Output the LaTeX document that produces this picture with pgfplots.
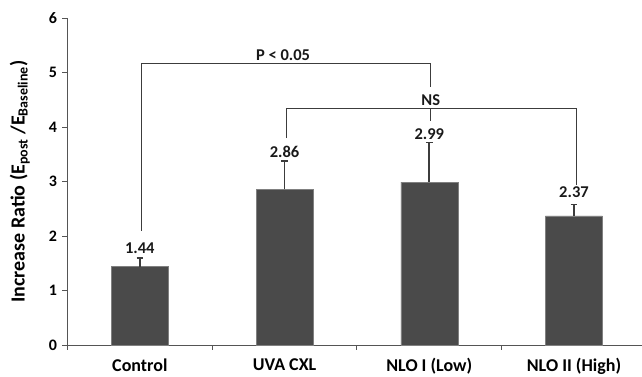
\documentclass[border=0pt]{standalone}
\usepackage{fontspec}
\setmainfont{Carlito}
\usepackage{pgfplots}
\pgfplotsset{compat=1.18}
\definecolor{barc}{HTML}{4A4A4A}
\definecolor{linec}{HTML}{3C3C3C}
\definecolor{axc}{HTML}{555555}
\begin{document}
\begin{tikzpicture}[x=1pt,y=1pt]
\useasboundingbox (-67.5,-32) rectangle (574.5,345);
\begin{axis}[
  scale only axis, width=574.5pt, height=326.7pt,
  at={(0,0)}, anchor=south west,
  xmin=-0.5, xmax=3.47, ymin=0, ymax=6,
  axis x line*=bottom, axis y line*=left,
  axis line style={draw=axc, line width=0.9pt},
  tick align=outside, major tick length=5pt,
  tick style={draw=axc, line width=0.9pt},
  ytick={0,1,2,3,4,5,6},
  xtick={-0.5,0.5,1.5,2.5}, xticklabels={},
  extra x ticks={0,1,2,3},
  extra x tick labels={Control,UVA CXL,NLO I (Low),NLO II (High)},
  extra x tick style={major tick length=0pt},
  xticklabel style={font=\bfseries\fontsize{18}{18}\selectfont, yshift=-10pt},
  /pgf/number format/assume math mode=true,
  yticklabel style={font=\bfseries\fontsize{16}{16}\selectfont, xshift=-2pt},
  ylabel={Increase Ratio (E\textsubscript{post} /E\textsubscript{Baseline})},
  ylabel style={font=\bfseries\fontsize{20}{20}\selectfont, at={(axis description cs:-0.083,0.5)}, anchor=center},
  clip=false,
]
\addplot[ybar, bar width=57pt, fill=barc, draw=gray, line width=0.5pt,
  error bars/.cd, y dir=plus, y explicit,
  error bar style={line width=1.6pt, draw=linec},
  error mark options={rotate=90, mark size=3.3pt, line width=1.3pt, draw=linec}]
  coordinates {(0,1.44) +- (0,0.16) (1,2.86) +- (0,0.52) (2,2.99) +- (0,0.73) (3,2.37) +- (0,0.21)};
\begin{scope}[font=\bfseries\fontsize{16.5}{16.5}\selectfont, text=black!90]
\node at (axis cs:0,1.78) {1.44};
\node at (axis cs:1,3.54) {2.86};
\node at (axis cs:2,3.87) {2.99};
\node at (axis cs:3,2.80) {2.37};
\node at (axis cs:0.99,5.33) {P < 0.05};
\node at (axis cs:2.01,4.50) {NS};
\end{scope}
\draw[linec, line width=1pt] (axis cs:0.01,2.10) -- (axis cs:0.01,5.17) -- (axis cs:2.01,5.17) -- (axis cs:2.01,4.74);
\draw[linec, line width=1pt] (axis cs:1.01,3.80) -- (axis cs:1.01,4.35) -- (axis cs:3.02,4.35) -- (axis cs:3.02,2.94);
\draw[linec, line width=1pt] (axis cs:2.01,4.35) -- (axis cs:2.01,4.12);
\end{axis}
\end{tikzpicture}
\end{document}
